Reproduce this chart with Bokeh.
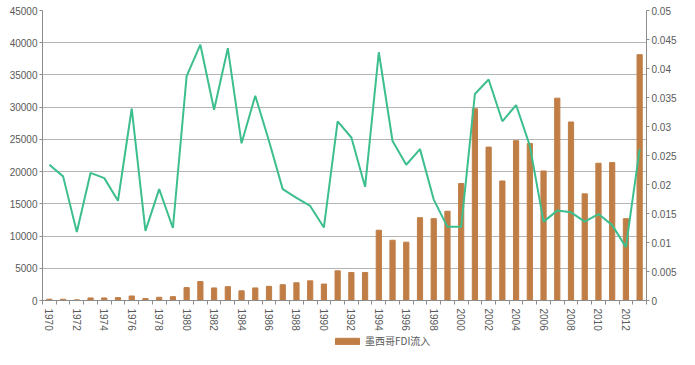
import numpy as np
from bokeh.plotting import figure
from bokeh.layouts import column
from bokeh.models import (ColumnDataSource, LinearAxis, Range1d, FixedTicker,
                          Legend, LegendItem)
from bokeh.embed import file_html
from bokeh.resources import INLINE

years = list(range(1970, 2014))
fdi = [200, 200, 100, 400, 400, 450, 700, 300, 500, 600,
       2000, 2950, 1950, 2150, 1500, 1950, 2200, 2450, 2750, 3050,
       2550, 4600, 4350, 4350, 10900, 9350, 9050, 12850, 12700, 13850,
       18150, 29750, 23800, 18550, 24800, 24350, 20100, 31400, 27700, 16550,
       21300, 21400, 12700, 38150]
ratio = [0.0234, 0.0214, 0.0118, 0.0220, 0.0211, 0.0172, 0.0331, 0.0120, 0.0192, 0.0125,
         0.0387, 0.0441, 0.0329, 0.0435, 0.0271, 0.0353, 0.0275, 0.0192, 0.0177, 0.0163,
         0.0126, 0.0309, 0.0281, 0.0196, 0.0428, 0.0275, 0.0234, 0.0261, 0.0174, 0.0127,
         0.0127, 0.0356, 0.0381, 0.0309, 0.0337, 0.0267, 0.0136, 0.0155, 0.0152, 0.0136,
         0.0149, 0.0130, 0.0092, 0.0261]
left_ticks = list(range(0, 45001, 5000))
right_ticks = [0, 0.005, 0.01, 0.015, 0.02, 0.025, 0.03, 0.035, 0.04, 0.045, 0.05]
label_years = list(range(1970, 2013, 2))
legend_label = "墨西哥FDI流入"

bar_color = "#C07E46"
line_color = "#3DBE8D"
gray = "#595959"
axcol = "#8C8C8C"
font = "Liberation Sans"
fs = "10px"

src = ColumnDataSource(dict(year=years, fdi=fdi, ratio=ratio))

p = figure(width=679, height=333, output_backend="svg", toolbar_location=None,
           x_range=Range1d(1969.5, 2013.5), y_range=Range1d(0, 45000),
           min_border_left=42, min_border_right=30, min_border_top=10, min_border_bottom=28)
p.extra_y_ranges = {"r": Range1d(0, 0.05)}
p.outline_line_color = None
p.background_fill_color = "white"

p.xgrid.grid_line_color = None
p.ygrid.grid_line_color = "#B4B4B4"
p.ygrid.grid_line_width = 1

p.vbar(x="year", top="fdi", width=0.38, source=src, color=bar_color)
p.line(x="year", y="ratio", source=src, y_range_name="r", line_color=line_color, line_width=2)

p.xaxis.ticker = FixedTicker(ticks=label_years, minor_ticks=[y + 0.5 for y in range(1969, 2014)])
p.xaxis.major_label_orientation = "vertical"
p.xaxis.major_tick_out = 0
p.xaxis.major_tick_in = 0
p.xaxis.minor_tick_out = 4
p.xaxis.minor_tick_in = 0
p.xaxis.minor_tick_line_color = axcol
p.xaxis.axis_line_color = axcol
p.xaxis.major_label_text_font_size = fs
p.xaxis.major_label_text_color = gray
p.xaxis.major_label_text_font = font
p.xaxis.major_label_standoff = 4

p.yaxis.ticker = FixedTicker(ticks=left_ticks)
p.yaxis.minor_tick_line_color = None
p.yaxis.major_tick_out = 3
p.yaxis.major_tick_in = 0
p.yaxis.axis_line_color = axcol
p.yaxis.major_tick_line_color = axcol
p.yaxis.major_label_text_font_size = fs
p.yaxis.major_label_text_color = gray
p.yaxis.major_label_text_font = font
p.yaxis.major_label_standoff = 2

ra = LinearAxis(y_range_name="r", ticker=FixedTicker(ticks=right_ticks))
ra.major_label_overrides = {t: ("0" if t == 0 else ("%g" % t)) for t in right_ticks}
ra.minor_tick_line_color = None
ra.major_tick_out = 3
ra.major_tick_in = 0
ra.axis_line_color = axcol
ra.major_tick_line_color = axcol
ra.major_label_text_font_size = fs
ra.major_label_text_color = gray
ra.major_label_text_font = font
ra.major_label_standoff = 2
p.add_layout(ra, "right")

# legend strip below the chart: its bars lie below the strip's visible y-range,
# so only the legend swatch and label are shown
p2 = figure(width=679, height=16, output_backend="svg", toolbar_location=None,
            x_range=Range1d(1969.5, 2013.5), y_range=Range1d(50000, 90000),
            min_border_left=0, min_border_right=0, min_border_top=0, min_border_bottom=0)
p2.xaxis.visible = False
p2.yaxis.visible = False
p2.grid.visible = False
p2.outline_line_color = None
swatch = p2.vbar(x="year", top="fdi", width=0.38, source=src, color=bar_color)
legend = Legend(items=[LegendItem(label=legend_label, renderers=[swatch])],
                location=(290, 1), orientation="horizontal",
                border_line_color=None, background_fill_alpha=0,
                padding=0, margin=0, spacing=0,
                glyph_width=30, glyph_height=8, label_height=12,
                label_text_font="Noto Sans CJK SC", label_text_font_size="10px",
                label_text_color=gray, label_standoff=3)
p2.add_layout(legend, "center")

layout = column(p, p2, spacing=0)
open("out.html", "w").write(file_html(layout, INLINE))
